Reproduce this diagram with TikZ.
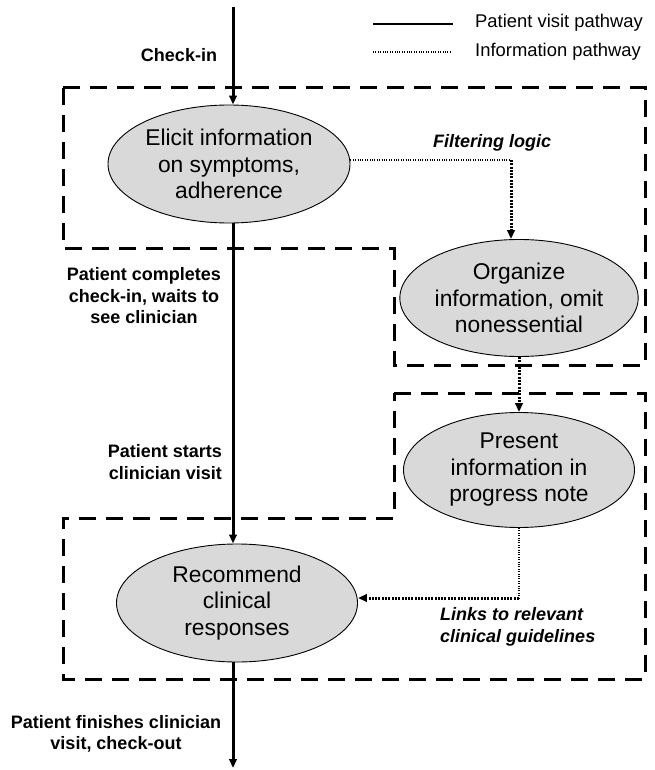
\documentclass[tikz,border=0pt]{standalone}
\usepackage{fontspec}
\setmainfont{Liberation Sans}
\usetikzlibrary{shapes.geometric,arrows.meta}
\begin{document}
\begin{tikzpicture}[x=1pt,y=-1pt,
  elli/.style={ellipse,draw=black,line width=0.9pt,fill=gray!30,inner sep=0pt,align=center,
    font=\fontsize{22.8}{26.5}\selectfont},
  lbl/.style={font=\bfseries\fontsize{18}{21.5}\selectfont,inner sep=0pt},
  ilbl/.style={font=\bfseries\itshape\fontsize{18}{21.5}\selectfont,inner sep=0pt},
  leg/.style={font=\fontsize{18.4}{22}\selectfont,inner sep=0pt,anchor=west},
  mainpath/.style={line width=3pt},
  tip/.style={-{Triangle[length=9pt,width=7.5pt]}},
  thindot/.style={line width=1.2pt,dash pattern=on 1pt off 1.4pt},
  thickdot/.style={line width=3pt,dash pattern=on 2pt off 1.3pt},
  boxline/.style={line width=3pt,dash pattern=on 17pt off 10pt}
]
\useasboundingbox (0,0) rectangle (655,770);

% dashed group boxes
\draw[boxline] (63,88) -- (645,88) -- (645,365) -- (394,365) -- (394,248) -- (63,248) -- cycle;
\draw[boxline] (394,393) -- (645,393) -- (645,679) -- (63,679) -- (63,518) -- (394,518) -- cycle;

% ellipses
\node[elli,minimum width=242pt,minimum height=118pt] (elicit) at (229,164) {Elicit information\\on symptoms,\\adherence};
\node[elli,minimum width=235pt,minimum height=117pt] (org) at (519,298) {Organize\\information, omit\\nonessential};
\node[elli,minimum width=231pt,minimum height=115pt] (pres) at (519,470) {Present\\information in\\progress note};
\node[elli,minimum width=241pt,minimum height=118pt] (rec) at (237,603) {Recommend\\clinical\\responses};

% main patient pathway
\coordinate (top) at (233,7);
\coordinate (bot) at (233,768);
\draw[mainpath,tip] (top) -- (elicit.north -| top);
\draw[mainpath,tip] (elicit.south -| top) -- (rec.north -| top);
\draw[mainpath,tip] (rec.south -| top) -- (bot);

% information pathway
\coordinate (fl) at (511,160);
\draw[thindot] (fl -| elicit.east) -- (fl);
\draw[thickdot,tip] (fl) -- (fl |- org.north);
\draw[thickdot,tip] (org.south) -- (pres.north);
\coordinate (lk) at (519,598);
\draw[thindot] (pres.south) -- (lk);
\draw[thickdot,tip] (lk) -- (lk -| rec.east);

% labels
\node[lbl] (l1) at (179,55) {Check-in};
\node[ilbl] (l2) at (492,143) {Filtering logic};
\node[lbl,align=center] (l3) at (144,296) {Patient completes\\check-in, waits to\\see clinician};
\node[lbl,align=right,anchor=east] (l4) at (222,462) {Patient starts\\clinician visit};
\node[ilbl,align=left,anchor=west] (l5) at (440,627) {Links to relevant\\clinical guidelines};
\node[lbl,align=center] (l6) at (116,734) {Patient finishes clinician\\visit, check-out};

% legend
\coordinate (s1) at (373,24);
\coordinate (s2) at (453,24);
\coordinate (d1) at (373,52);
\coordinate (d2) at (452,52);
\draw[line width=1.8pt] (s1) -- (s2);
\draw[thindot] (d1) -- (d2);
\node[leg] (t1) at (475,23) {Patient visit pathway};
\node[leg] (t2) at (475,52) {Information pathway};
\end{tikzpicture}
\end{document}
